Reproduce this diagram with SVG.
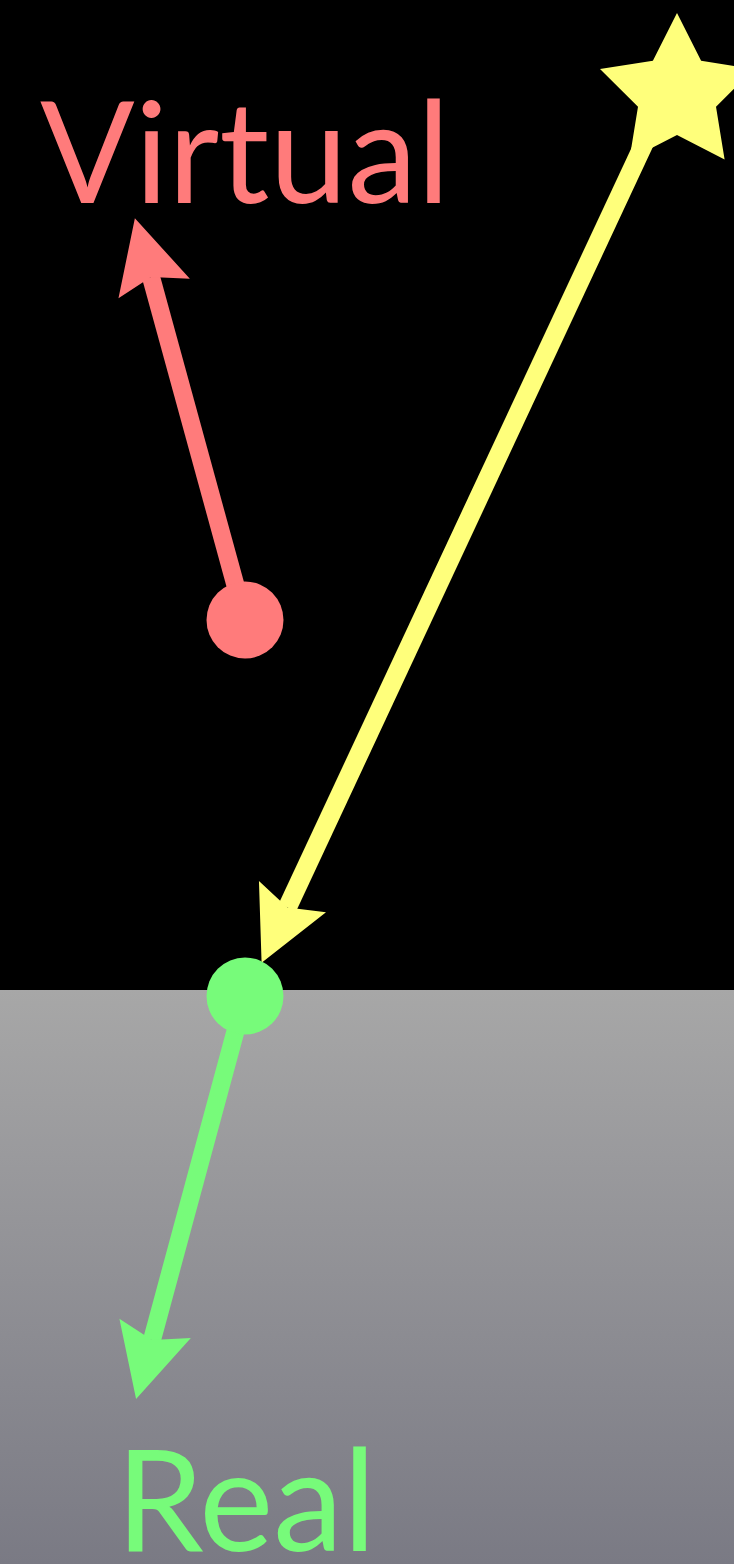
<svg xmlns="http://www.w3.org/2000/svg" width="734" height="1564" viewBox="0 0 734 1564">
  <defs>
    <linearGradient id="ground" x1="0" y1="0" x2="0" y2="1">
      <stop offset="0" stop-color="#a7a7a7"/>
      <stop offset="1" stop-color="#7a7a84"/>
    </linearGradient>
    <marker id="headRed" markerUnits="userSpaceOnUse" markerWidth="80" markerHeight="80" viewBox="-15 -40 80 80" refX="0" refY="0" orient="auto" overflow="visible">
      <path d="M61,0 L-12,-37 L0,0 L-12,37 Z" fill="#ff7b7b"/>
    </marker>
    <marker id="headGreen" markerUnits="userSpaceOnUse" markerWidth="80" markerHeight="80" viewBox="-15 -40 80 80" refX="0" refY="0" orient="auto" overflow="visible">
      <path d="M61,0 L-12,-37 L0,0 L-12,37 Z" fill="#77fb7a"/>
    </marker>
    <marker id="headYellow" markerUnits="userSpaceOnUse" markerWidth="80" markerHeight="80" viewBox="-15 -40 80 80" refX="0" refY="0" orient="auto" overflow="visible">
      <path d="M61,0 L-12,-37 L0,0 L-12,37 Z" fill="#ffff7b"/>
    </marker>
    <style>
      .lbl { font-family: "Lato", "Open Sans", "Liberation Sans", sans-serif; font-size: 141px; }
      .shaft { fill: none; stroke-linecap: butt; }
    </style>
  </defs>
  <rect x="0" y="0" width="734" height="1564" fill="#000000"/>
  <rect id="ground-plane" x="0" y="990" width="734" height="574" fill="url(#ground)"/>

  <g id="connectors">
    <line class="shaft" x1="245" y1="620" x2="151" y2="277" stroke="#ff7b7b" stroke-width="18" marker-end="url(#headRed)"/>
    <line class="shaft" x1="245" y1="996" x2="152" y2="1340" stroke="#77fb7a" stroke-width="18" marker-end="url(#headGreen)"/>
    <line class="shaft" x1="655" y1="120" x2="287.4" y2="907.5" stroke="#ffff7b" stroke-width="19" marker-end="url(#headYellow)"/>
  </g>

  <g id="star">
    <polygon points="677,13 701.1,60.8 754,69 716,106.7 724.6,159.5 677,135 629.4,159.5 638,106.7 600,69 652.9,60.8" fill="#ffff7b"/>
  </g>
  <g id="virtual-point">
    <circle cx="245" cy="620" r="38.5" fill="#ff7b7b"/>
  </g>
  <g id="real-point">
    <circle cx="245" cy="996" r="38.5" fill="#77fb7a"/>
  </g>
  <g id="label-virtual">
    <text class="lbl" x="40" y="203" fill="#ff7b7b" textLength="410" lengthAdjust="spacingAndGlyphs">Virtual</text>
  </g>
  <g id="label-real">
    <text class="lbl" x="116" y="1551" fill="#77fb7a" textLength="260" lengthAdjust="spacingAndGlyphs">Real</text>
  </g>
</svg>
